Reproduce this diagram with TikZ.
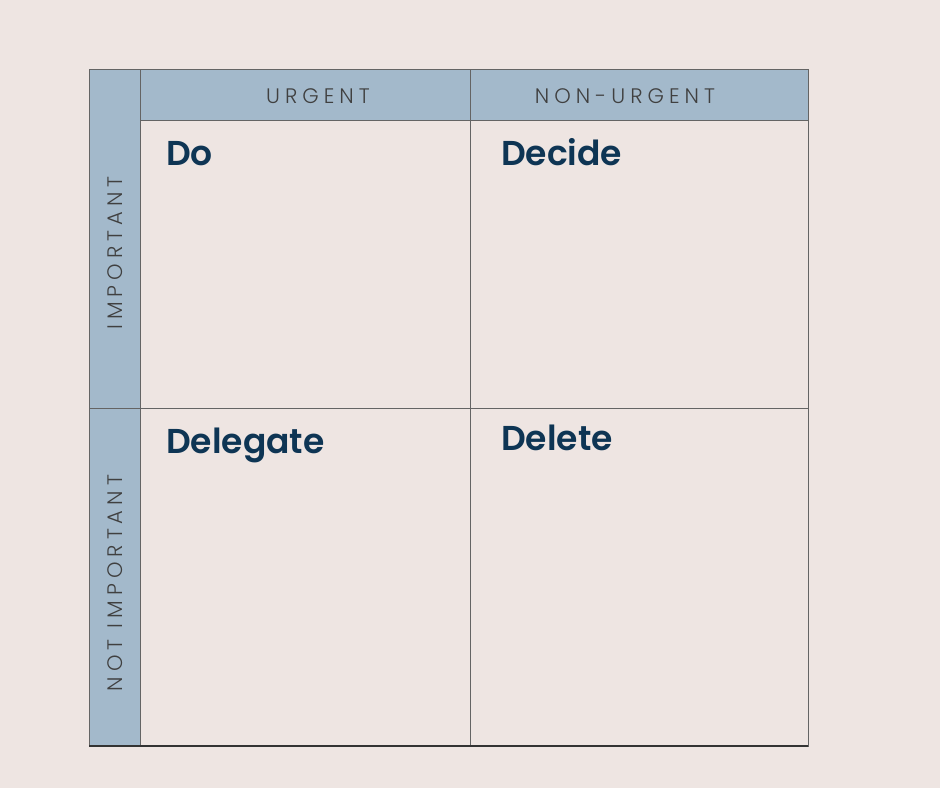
\documentclass[tikz,border=0pt]{standalone}
\usepackage{fontspec}
\setmainfont{Poppins}
\newfontfamily\capsfont[LetterSpace=24]{Poppins Light}
\newfontfamily\titlefont{Poppins SemiBold}
\usepackage{tikz}
\usetikzlibrary{calc}
\definecolor{paper}{RGB}{238,229,226}
\definecolor{headblue}{RGB}{163,185,203}
\definecolor{inkblue}{RGB}{14,53,84}
\definecolor{gridgray}{RGB}{100,100,100}
\tikzset{headcell/.style={draw=gridgray,fill=headblue,line width=1pt,inner sep=0pt},
	quadcell/.style={draw=gridgray,fill=paper,line width=1pt,inner sep=0pt},
	axislabel/.style={font=\capsfont\fontsize{21}{21}\selectfont,text=black!75},
	quadtitle/.style={anchor=base west,inner sep=0pt,font=\titlefont\fontsize{34.5}{34.5}\selectfont,text=inkblue}}

\begin{document}
\begin{tikzpicture}[x=1pt,y=-1pt]
	\fill[paper] (0,0) rectangle (940,788);
	\useasboundingbox (0,0) rectangle (940,788);

	% header column and header row
	\draw[headcell] (89,69) rectangle (140,746);
	\draw[headcell] (140,69) rectangle (470,120);
	\draw[headcell] (470,69) rectangle (808,120);

	% the four quadrants
	\draw[quadcell] (140,120) rectangle (470,408);
	\draw[quadcell] (470,120) rectangle (808,408);
	\draw[quadcell] (140,408) rectangle (470,746);
	\draw[quadcell] (470,408) rectangle (808,746);
	\draw[gridgray,line width=1pt] (89,408) -- (140,408);
	\draw[black!80,line width=1.3pt] (89,746) -- (808,746);

	\node[axislabel] (urgent) at (318,96) {URGENT};
	\node[axislabel] (nonurgent) at (625,96) {NON-URGENT};
	\node[axislabel,rotate=90] (important) at (115,253) {IMPORTANT};
	\node[axislabel,rotate=90] (notimportant) at (115,583) {NOT IMPORTANT};

	\node[quadtitle] (do) at (166,165) {Do};
	\node[quadtitle] (decide) at (501,165) {Decide};
	\node[quadtitle] (delegate) at (166,453) {Delegate};
	\node[quadtitle] (delete) at (501,450) {Delete};

\end{tikzpicture}
\end{document}
